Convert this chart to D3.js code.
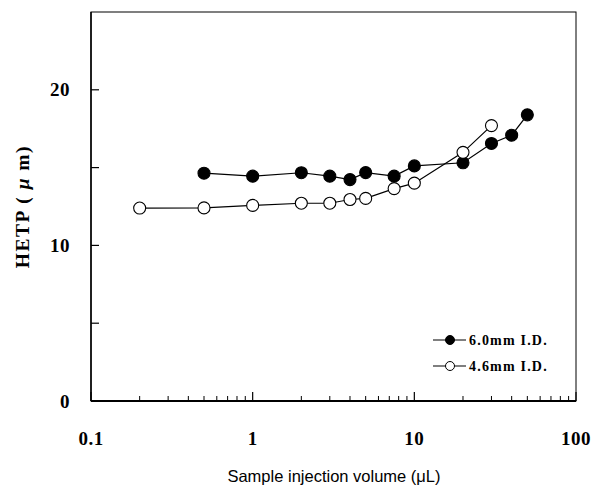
<!DOCTYPE html>
<html><head><meta charset="utf-8">
<script src="https://cdn.jsdelivr.net/npm/d3@7"></script>
<style>body{margin:0;background:#fff}svg{display:block}</style>
</head><body>
<svg id="c" width="595" height="495"></svg>
<script>
const seriesNames = ["6.0mm I.D.", "4.6mm I.D."];
const volume60 = [0.5, 1, 2, 3, 4, 5, 7.5, 10, 20, 30, 40, 50];
const hetp60 = [14.64, 14.45, 14.67, 14.45, 14.23, 14.68, 14.45, 15.11, 15.31, 16.55, 17.08, 18.39];
const volume46 = [0.2, 0.5, 1, 2, 3, 4, 5, 7.5, 10, 20, 30];
const hetp46 = [12.4, 12.41, 12.57, 12.71, 12.71, 12.95, 13.02, 13.65, 14.0, 15.98, 17.7];
const xTickLabels = [0.1, 1, 10, 100];
const yTickLabels = [0, 10, 20];
const yTicks = [0, 5, 10, 15, 20];

const svg = d3.select("#c");
const L = 91, R = 576, T = 12, B = 401;
const x = d3.scaleLog().domain([0.1, 100]).range([L, R]);
const y = d3.scaleLinear().domain([0, 25]).range([B, T]);
const serif = "'Liberation Serif','Times New Roman',serif";

// frame
svg.append("rect").attr("x", L).attr("y", T).attr("width", R - L).attr("height", B - T)
  .attr("fill", "none").attr("stroke", "#000").attr("stroke-width", 1);
svg.append("line").attr("x1", L).attr("x2", R).attr("y1", B).attr("y2", B)
  .attr("stroke", "#000").attr("stroke-width", 2);
svg.append("line").attr("x1", L).attr("x2", L).attr("y1", T).attr("y2", B)
  .attr("stroke", "#000").attr("stroke-width", 1.5);

// x ticks (inward)
const minor = [];
for (let d = 0.1; d < 100; d *= 10) for (let k = 2; k <= 9; k++) minor.push(d * k);
const gx = svg.append("g");
gx.selectAll("line.mn").data(minor).join("line")
  .attr("x1", d => x(d)).attr("x2", d => x(d)).attr("y1", B).attr("y2", B - 5)
  .attr("stroke", "#000").attr("stroke-width", 1);
gx.selectAll("line.mj").data(xTickLabels).join("line")
  .attr("x1", d => x(d)).attr("x2", d => x(d)).attr("y1", B).attr("y2", B - 9)
  .attr("stroke", "#000").attr("stroke-width", 1.2);
gx.selectAll("text").data(xTickLabels).join("text")
  .attr("x", d => x(d)).attr("y", 445).attr("text-anchor", "middle")
  .attr("font-family", serif).attr("font-weight", "bold").attr("font-size", 19)
  .attr("letter-spacing", 0.5)
  .text(d => d);

// y ticks (inward)
const gy = svg.append("g");
gy.selectAll("line").data(yTicks).join("line")
  .attr("x1", L).attr("x2", L + 8).attr("y1", d => y(d)).attr("y2", d => y(d))
  .attr("stroke", "#000").attr("stroke-width", 1.2);
gy.selectAll("text").data(yTickLabels).join("text")
  .attr("x", 70).attr("y", d => y(d) + 6.5).attr("text-anchor", "end")
  .attr("font-family", serif).attr("font-weight", "bold").attr("font-size", 19)
  .attr("letter-spacing", 0.5)
  .text(d => d);

// titles
const yt = svg.append("text").attr("transform", `translate(29,${(T + B) / 2}) rotate(-90)`)
  .attr("text-anchor", "middle").attr("font-family", serif).attr("font-weight", "bold")
  .attr("font-size", 19.5).attr("letter-spacing", 1.5);
yt.append("tspan").text("HETP ( ");
yt.append("tspan").attr("font-style", "italic").text("μ");
yt.append("tspan").text(" m)");
svg.append("text").attr("x", 334).attr("y", 482).attr("text-anchor", "middle")
  .attr("font-family", "'Liberation Sans',Arial,sans-serif").attr("font-size", 16.5)
  .text("Sample injection volume (μL)");

// series
const s60 = volume60.map((v, i) => [v, hetp60[i]]);
const s46 = volume46.map((v, i) => [v, hetp46[i]]);
const line = d3.line().x(d => x(d[0])).y(d => y(d[1]));
const series = [{pts: s60, fill: "#000"}, {pts: s46, fill: "#fff"}];
series.forEach(s => {
  svg.append("path").datum(s.pts).attr("d", line).attr("fill", "none")
    .attr("stroke", "#000").attr("stroke-width", 1.2);
});
series.forEach(s => {
  svg.append("g").selectAll("circle").data(s.pts).join("circle")
    .attr("cx", d => x(d[0])).attr("cy", d => y(d[1])).attr("r", 6)
    .attr("fill", s.fill).attr("stroke", "#000").attr("stroke-width", 1.1);
});

// legend
const lg = svg.append("g");
seriesNames.forEach((name, i) => {
  const yy = 340 + i * 26;
  lg.append("line").attr("x1", 433).attr("x2", 466).attr("y1", yy).attr("y2", yy)
    .attr("stroke", "#000").attr("stroke-width", 1.2);
  lg.append("circle").attr("cx", 450).attr("cy", yy).attr("r", 4.5)
    .attr("fill", series[i].fill).attr("stroke", "#000").attr("stroke-width", 1);
  lg.append("text").attr("x", 469).attr("y", yy + 4.5).attr("font-family", serif)
    .attr("font-weight", "bold").attr("font-size", 14).attr("letter-spacing", 1.2).text(name);
});
</script>
</body></html>
